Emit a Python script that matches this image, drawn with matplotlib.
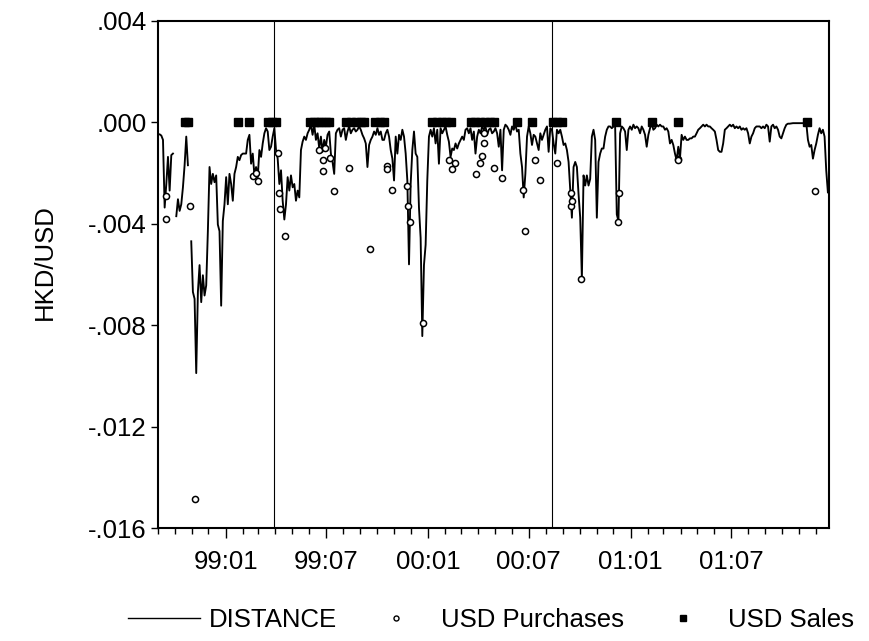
import numpy as np
import pandas as pd
import matplotlib
matplotlib.use("Agg")
import matplotlib.pyplot as plt
import matplotlib.dates as mdates
from matplotlib.lines import Line2D
from matplotlib.ticker import FuncFormatter

plt.rcParams["font.family"] = ["Liberation Sans", "DejaVu Sans"]

nan = np.nan

# DISTANCE series, one reading every 3 days from 1998-09-01, in units of 1e-3
dist_start = "1998-09-01"
dist_step = "3D"
distance_milli = [
  -0.47, -0.47, -0.52, -0.69, -3.36, -2.43, -1.36, -2.69, -1.29, -1.23,
  nan, -3.70, -3.03, -3.49, -3.23, -2.56, -1.69, -0.56, -1.69, nan,
  -4.69, -6.69, -6.96, -9.89, -6.69, -5.63, -7.09, -6.03, -6.83, -6.43,
  -4.29, -1.76, -2.43, -2.03, -2.36, -2.09, -4.03, -4.29, -7.23, -3.89,
  -3.23, -2.16, -3.23, -2.03, -2.43, -3.09, -2.03, -1.76, -1.36, -1.49,
  -1.29, -1.23, -1.23, -1.23, -0.69, -0.49, -1.63, -1.23, -2.09, -1.76,
  -2.16, -1.09, -1.36, -0.83, -0.43, -0.23, -0.36, -1.09,
  # 1999-04 onwards
  -0.96, -0.56, -0.23, -1.09, -1.43, -2.43, -1.89, -3.09, -3.83, -3.23,
  -2.16, -2.69, -2.09, -2.56, -2.43, -3.09, -2.69, -2.96, -1.09, -0.76,
  -0.56, -0.69, -0.43, -0.29, -0.09, -0.49, -0.09, -0.69, -0.43, -1.03,
  -0.56, -1.16, -0.69, -0.96, -0.49, -0.36, -1.23, -1.56, -2.03, -0.43,
  -0.29, -0.23, -0.56, -0.29, -0.23, -0.69, -0.36, -0.16, -0.43, -0.29,
  -0.23, -0.36, -0.29, -0.16, -0.29, -0.49, -0.63, -0.83, -1.76, -0.89,
  -0.69, -0.56, -0.36, -0.49, -0.23, -0.49, -0.36, -0.69,
  # 1999-10 onwards
  -0.69, -0.43, -0.29, -0.56, -1.09, -1.43, -2.29, -0.56, -1.23, -0.49,
  -0.69, -0.29, -0.56, -1.23, -2.29, -5.60, -2.43, -1.09, -0.36, -1.23,
  -1.36, -3.36, -4.56, -8.43, -5.63, -4.83, -2.29, -0.56, -0.29, -0.56,
  -0.23, -0.83, -0.29, -1.63, -0.23, -0.43, -0.29, -0.16, -0.49, -0.76,
  -1.36, -1.03, -1.09, -0.83, -1.03, -0.83, -0.69, -0.56, -0.69, -0.29,
  -0.23, -0.43, -0.23, -0.69, -0.36, -1.23, -0.56, -0.29, -0.43, -0.16,
  -0.29, -0.16, -0.49, -0.29, -0.23, -0.43, -0.36, -0.23,
  # 2000-04 onwards
  -0.43, -0.96, -0.29, -1.89, -0.29, -0.09, -0.16, -0.29, -0.49, -0.16,
  -0.29, -0.09, -0.36, -0.29, -1.23, -1.76, -2.96, -2.03, -0.56, -0.16,
  -0.43, -0.89, -0.49, -0.56, -0.83, -1.09, -0.43, -0.69, -0.49, -0.29,
  -0.16, -1.16, -0.23, -0.29, -0.83, -1.23, -0.29, -0.43, -0.29, -0.56,
  -0.89, -0.83, -1.09, -1.56, -2.69, -3.76, -1.76, -1.56, -1.76, -2.83,
  -3.76, -6.16, -2.09, -2.49, -2.09, -2.49, -2.23, -0.56, -0.29, -0.69,
  -3.76, -1.56, -1.23, -1.03, -1.03, -0.56, -0.29, -0.16,
  # 2000-11 onwards
  -0.16, -0.23, -0.16, -0.09, -3.63, -3.89, -0.43, -0.16, -0.23, -0.36,
  -1.09, -0.29, -0.16, -0.29, -0.09, -0.23, -0.16, -0.23, -0.43, -0.16,
  -0.29, -0.49, -0.96, -0.49, -0.23, -0.03, -0.29, -0.23, -0.09, -0.16,
  -0.09, -0.16, -0.16, -0.29, -0.23, -0.36, -0.83, -0.69, -0.89, -1.23,
  -1.49, -0.96, -1.43, -0.49, -0.69, -0.56, -0.69, -0.69, -0.63, -0.63,
  -0.56, -0.56, -0.43, -0.29, -0.23, -0.16, -0.09, -0.16, -0.09, -0.16,
  -0.16, -0.23, -0.29, -0.36, -0.69, -1.09, -1.16, -1.16,
  # 2001-06 onwards
  -0.83, -0.29, -0.23, -0.16, -0.09, -0.16, -0.09, -0.23, -0.16, -0.23,
  -0.16, -0.29, -0.23, -0.29, -0.23, -0.43, -0.83, -0.56, -0.43, -0.23,
  -0.16, -0.16, -0.16, -0.23, -0.16, -0.23, -0.09, -0.16, -0.76, -0.16,
  -0.09, -0.23, -0.16, -0.29, -0.56, -0.63, -0.43, -0.23, -0.09, -0.05,
  -0.05, -0.04, -0.03, -0.03, -0.03, -0.03, -0.03, -0.03, -0.03, -0.03,
  -0.03, -0.69, -0.96, -0.89, -1.43, -1.09, -0.83, -0.49, -0.23, -0.43,
  -0.29, -0.56, -1.89, -2.76,
]

# intervention days: USD purchases (value of DISTANCE that day, 1e-3)
purchase_dates = [
  "1998-09-15", "1998-09-16", "1998-10-29", "1998-11-06", "1999-02-20",
  "1999-02-25", "1999-02-28", "1999-04-06", "1999-04-07", "1999-04-09",
  "1999-04-18", "1999-06-19", "1999-06-25", "1999-06-26", "1999-06-30",
  "1999-07-08", "1999-07-16", "1999-08-12", "1999-09-18", "1999-10-19",
  "1999-10-20", "1999-10-29", "1999-11-25", "1999-11-27", "1999-11-29",
  "1999-12-23", "2000-02-09", "2000-02-14", "2000-02-19", "2000-03-28",
  "2000-04-04", "2000-04-07", "2000-04-11", "2000-04-12", "2000-04-29",
  "2000-05-14", "2000-06-21", "2000-06-24", "2000-07-12", "2000-07-22",
  "2000-08-21", "2000-09-15", "2000-09-16", "2000-09-18", "2000-10-03",
  "2000-12-10", "2000-12-11", "2001-03-27", "2001-03-28", "2001-11-30",
]
purchase_milli = [
  -3.83, -2.90, -3.30, -14.87, -2.10,
  -2.00, -2.30, -1.20, -2.80, -3.40,
  -4.48, -1.10, -1.50, -1.90, -1.00,
  -1.40, -2.69, -1.80, -4.98, -1.72,
  -1.82, -2.68, -2.50, -3.30, -3.92,
  -7.93, -1.50, -1.84, -1.62, -2.02,
  -1.62, -1.31, -0.80, -0.40, -1.80,
  -2.18, -2.68, -4.28, -1.50, -2.29,
  -1.62, -2.80, -3.30, -3.10, -6.17,
  -3.91, -2.80, -1.45, -1.50, -2.69,
]

# USD sales days, plotted on the zero line
sales_dates = [
  "1998-10-19", "1998-10-26", "1999-01-24", "1999-02-12", "1999-03-19",
  "1999-03-26", "1999-04-02", "1999-06-03", "1999-06-09", "1999-06-16",
  "1999-06-23", "1999-07-01", "1999-07-07", "1999-08-06", "1999-08-15",
  "1999-08-24", "1999-09-02", "1999-09-07", "1999-09-28", "1999-10-06",
  "1999-10-14", "2000-01-09", "2000-01-17", "2000-01-26", "2000-02-03",
  "2000-02-11", "2000-03-18", "2000-03-26", "2000-04-04", "2000-04-13",
  "2000-04-22", "2000-04-29", "2000-06-10", "2000-07-07", "2000-08-14",
  "2000-08-22", "2000-08-31", "2000-12-05", "2001-02-08", "2001-03-27",
  "2001-11-15",
]

break_dates = ["1999-03-29", "2000-08-12"]

x_start, x_end = "1998-09-01", "2001-12-25"

dist_x = pd.date_range(dist_start, periods=len(distance_milli), freq=dist_step)
distance = np.array(distance_milli) / 1000.0
purchase_x = pd.to_datetime(purchase_dates)
purchase = np.array(purchase_milli) / 1000.0
sales_x = pd.to_datetime(sales_dates)
sales = np.zeros(len(sales_x))

FS = 18.5
W, H = 869, 641
fig = plt.figure(figsize=(W / 100, H / 100), dpi=100)
ax = fig.add_axes([158 / W, 1 - 528 / H, 671 / W, 507 / H])

for d in break_dates:
  ax.axvline(pd.Timestamp(d), color="black", lw=0.8, zorder=1)

ax.plot(dist_x, distance, color="black", lw=1.35, zorder=2)
ax.plot(purchase_x, purchase, ls="none", marker="o", ms=4.4,
        mfc="white", mec="black", mew=1.1, zorder=3)
ax.plot(sales_x, sales, ls="none", marker="s", ms=5.6,
        mfc="black", mec="black", zorder=4)

ax.set_xlim(pd.Timestamp(x_start), pd.Timestamp(x_end))
ax.set_ylim(-0.016, 0.004)
ax.set_yticks([0.004, 0.0, -0.004, -0.008, -0.012, -0.016])

def dot_fmt(v, pos):
  s = f"{v:.3f}"
  if s == "-0.000":
    s = "0.000"
  return s.replace("0.", ".", 1)

ax.yaxis.set_major_formatter(FuncFormatter(dot_fmt))
ax.xaxis.set_major_locator(mdates.MonthLocator(bymonth=[1, 7]))
ax.xaxis.set_major_formatter(mdates.DateFormatter("%y:%m"))
ax.xaxis.set_minor_locator(mdates.MonthLocator())

ax.tick_params(axis="both", which="both", direction="out", labelsize=FS,
               width=1.0, color="black")
ax.tick_params(axis="y", which="major", length=5, pad=3)
ax.tick_params(axis="x", which="major", length=7, pad=9)
ax.tick_params(axis="x", which="minor", length=4)

for sp in ax.spines.values():
  sp.set_linewidth(1.5)

ax.set_ylabel("HKD/USD", fontsize=FS)
ax.yaxis.set_label_coords(-0.15, 0.525)

handles = [
  Line2D([], [], color="black", lw=1.0),
  Line2D([], [], ls="none", marker="o", ms=3.6, mfc="white", mec="black", mew=1.0),
  Line2D([], [], ls="none", marker="s", ms=4.6, mfc="black", mec="black"),
]
fig.legend(handles, ["DISTANCE", "USD Purchases", "USD Sales"],
           loc="center", bbox_to_anchor=(491 / W, 1 - 620 / H), ncol=3,
           frameon=False, fontsize=FS, handlelength=2.8, handletextpad=0.35,
           columnspacing=0.9)

fig.savefig("out.png", dpi=100)
